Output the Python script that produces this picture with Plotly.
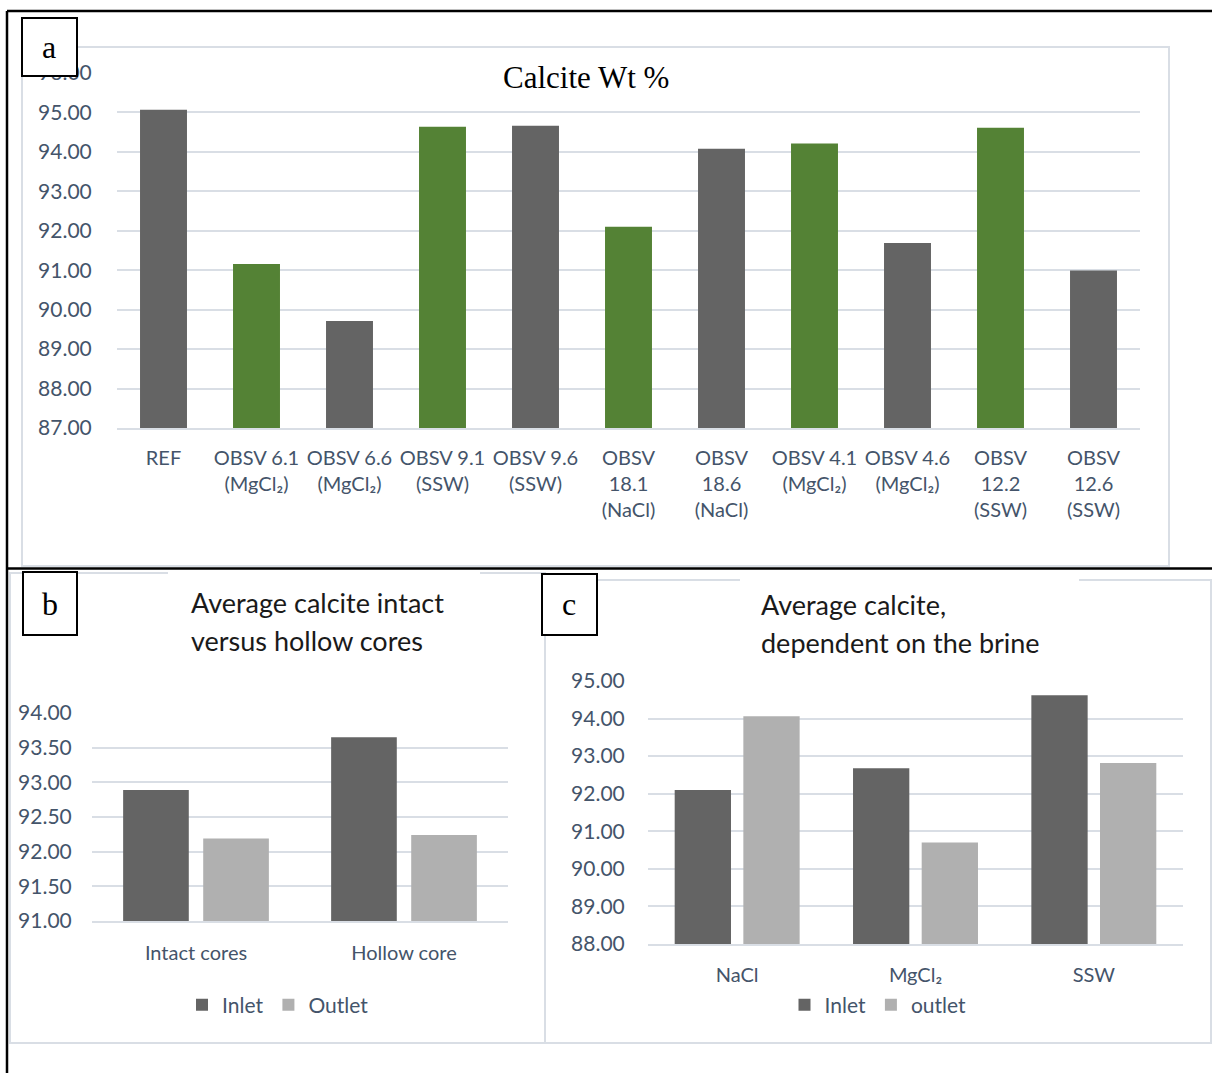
import plotly.graph_objects as go

W, H = 1212, 1073

# ---- (a) calcite content of every sample ----
samples = [
    "REF",
    "OBSV 6.1<br>(MgCl₂)", "OBSV 6.6<br>(MgCl₂)",
    "OBSV 9.1<br>(SSW)", "OBSV 9.6<br>(SSW)",
    "OBSV<br>18.1<br>(NaCl)", "OBSV<br>18.6<br>(NaCl)",
    "OBSV 4.1<br>(MgCl₂)", "OBSV 4.6<br>(MgCl₂)",
    "OBSV<br>12.2<br>(SSW)", "OBSV<br>12.6<br>(SSW)",
]
calcite_wt = [95.07, 91.16, 89.71, 94.64, 94.66, 92.10, 94.08, 94.21, 91.69, 94.61, 90.99]
sample_end = ["ref", "inlet", "outlet", "inlet", "outlet", "inlet",
              "outlet", "inlet", "outlet", "inlet", "outlet"]

# ---- (b) intact versus hollow cores ----
core_types = ["Intact cores", "Hollow core"]
core_inlet = [92.89, 93.65]
core_outlet = [92.19, 92.24]

# ---- (c) average per brine ----
brines = ["NaCl", "MgCl₂", "SSW"]
brine_inlet = [92.10, 92.68, 94.62]
brine_outlet = [94.06, 90.70, 92.82]

FONT = "Lato"
SERIF = "Liberation Serif"
TICK = "#44546a"
GRID = "#d9dee5"
DARK = "#646464"
LIGHT = "#b0b0b0"
GREEN = "#548235"


def px(x):
    return x / W


def py(y):
    return 1 - y / H


fig = go.Figure()

end_colour = {"ref": DARK, "inlet": GREEN, "outlet": DARK}
fig.add_trace(go.Bar(
    x=samples, y=calcite_wt, width=0.505,
    marker=dict(color=[end_colour[e] for e in sample_end], line=dict(width=0)),
    xaxis="x", yaxis="y", showlegend=False,
))

fig.add_trace(go.Bar(x=core_types, y=core_inlet, name="Inlet",
                     marker=dict(color=DARK, line=dict(width=0)),
                     xaxis="x2", yaxis="y2", legend="legend"))
fig.add_trace(go.Bar(x=core_types, y=core_outlet, name="Outlet",
                     marker=dict(color=LIGHT, line=dict(width=0)),
                     xaxis="x2", yaxis="y2", legend="legend"))

fig.add_trace(go.Bar(x=brines, y=brine_inlet, name="Inlet",
                     marker=dict(color=DARK, line=dict(width=0)),
                     xaxis="x3", yaxis="y3", legend="legend2"))
fig.add_trace(go.Bar(x=brines, y=brine_outlet, name="outlet",
                     marker=dict(color=LIGHT, line=dict(width=0)),
                     xaxis="x3", yaxis="y3", legend="legend2"))

ytickfont = dict(family=FONT, size=21, color=TICK)
xtickfont = dict(family=FONT, size=20, color=TICK)


def xaxis(domain, anchor, ticklen):
    return dict(domain=domain, anchor=anchor, type="category",
                showgrid=False, zeroline=False, showline=True,
                linecolor=GRID, linewidth=2, ticks="outside",
                ticklen=ticklen, tickcolor="rgba(0,0,0,0)",
                tickfont=xtickfont, fixedrange=True, automargin=False)


def yaxis(domain, anchor, lo, hi, step, ticklen):
    return dict(domain=domain, anchor=anchor, range=[lo, hi], dtick=step,
                tick0=lo, tickformat=".2f", showgrid=True, gridcolor=GRID,
                gridwidth=2, zeroline=False, showline=False,
                ticks="outside", ticklen=ticklen,
                tickcolor="rgba(0,0,0,0)", tickfont=ytickfont,
                fixedrange=True, automargin=False)


shapes = []


def rect(x0, y0, x1, y1, line_color, line_width, fill="rgba(0,0,0,0)", layer="above"):
    shapes.append(dict(type="rect", xref="paper", yref="paper",
                       x0=px(x0), x1=px(x1), y0=py(y1), y1=py(y0),
                       line=dict(color=line_color, width=line_width),
                       fillcolor=fill, layer=layer))


def hline(x0, x1, y, width):
    shapes.append(dict(type="line", xref="paper", yref="paper",
                       x0=px(x0), x1=px(x1), y0=py(y), y1=py(y),
                       line=dict(color="black", width=width), layer="above"))


def vline(x, y0, y1, width):
    shapes.append(dict(type="line", xref="paper", yref="paper",
                       x0=px(x), x1=px(x), y0=py(y0), y1=py(y1),
                       line=dict(color="black", width=width), layer="above"))


# chart-area outlines
rect(22, 47, 1169, 566, GRID, 2, layer="below")
rect(10, 573, 545, 1043, GRID, 2, layer="below")
rect(545, 580, 1211, 1043, GRID, 2, layer="below")
# white title boxes of (b) and (c)
rect(168, 572, 480, 668, "rgba(0,0,0,0)", 0, fill="white")
rect(740, 579, 1079, 690, "rgba(0,0,0,0)", 0, fill="white")
# black frame
hline(7, 1212, 11, 2.5)
hline(7, 1212, 568.5, 2.5)
vline(7, 11, 1073, 2.5)
# panel letter boxes
rect(22, 18, 77, 76, "black", 2, fill="white")
rect(23, 572, 77, 635, "black", 2, fill="white")
rect(542, 574, 597, 635, "black", 2, fill="white")

annotations = []


def text(s, x, y, size, family=FONT, color="#1a1a1a", xanchor="center"):
    annotations.append(dict(text=s, x=px(x), y=py(y), xref="paper", yref="paper",
                            showarrow=False, xanchor=xanchor, yanchor="middle",
                            font=dict(family=family, size=size, color=color)))


text("Calcite Wt %", 586, 78, 31, family=SERIF, color="black")
text("a", 49, 47, 32, family=SERIF, color="black")
text("b", 50, 604, 32, family=SERIF, color="black")
text("c", 569, 604, 32, family=SERIF, color="black")
text("Average calcite intact", 189, 602, 27, xanchor="left")
text("versus hollow cores", 189, 640, 27, xanchor="left")
text("Average calcite,", 759, 604, 27, xanchor="left")
text("dependent on the brine", 759, 642, 27, xanchor="left")

legend_style = dict(orientation="h", xanchor="center", yanchor="middle",
                    font=dict(family=FONT, size=21, color=TICK),
                    bgcolor="rgba(0,0,0,0)", itemwidth=30, traceorder="normal")

fig.update_layout(
    template="none",
    width=W, height=H, autosize=False,
    margin=dict(l=0, r=0, t=0, b=0, pad=0),
    paper_bgcolor="white", plot_bgcolor="rgba(0,0,0,0)",
    barmode="group", bargap=0.23, bargroupgap=0.18,
    font=dict(family=FONT, color=TICK),
    xaxis=xaxis([px(117), px(1140)], "y", 11),
    yaxis=yaxis([py(428), py(73)], "x", 87, 96, 1, 20),
    xaxis2=xaxis([px(92), px(508)], "y2", 13),
    yaxis2=yaxis([py(921), py(713)], "x2", 91, 94, 0.5, 15),
    xaxis3=xaxis([px(648), px(1183)], "y3", 12),
    yaxis3=yaxis([py(944), py(681)], "x3", 88, 95, 1, 18),
    legend=dict(x=px(278), y=py(1005), **legend_style),
    legend2=dict(x=px(878), y=py(1005), **legend_style),
    shapes=shapes, annotations=annotations,
)

fig.write_html("out.html")
